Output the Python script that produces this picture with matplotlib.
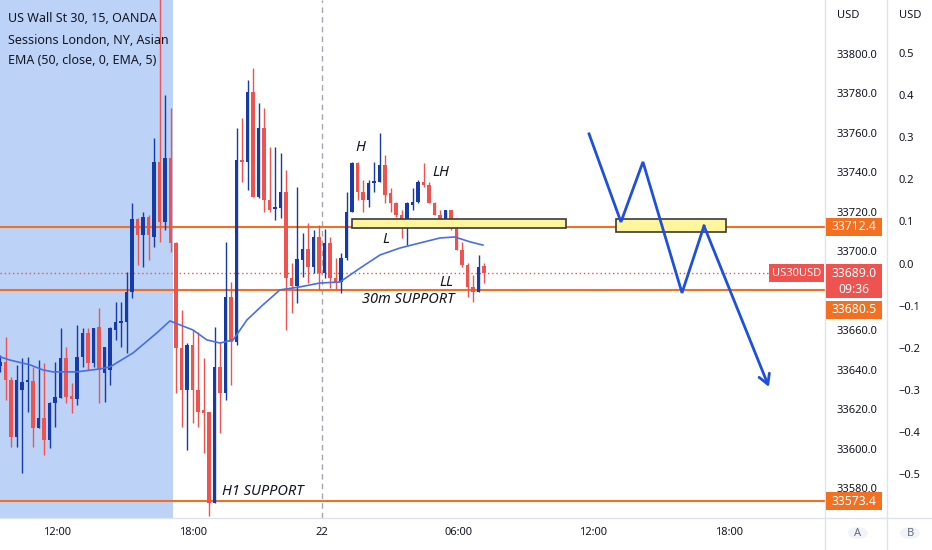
import matplotlib
matplotlib.use("Agg")
import matplotlib.pyplot as plt
from matplotlib.patches import Rectangle, Circle
from matplotlib.lines import Line2D

plt.rcParams['font.family'] = ['Noto Sans', 'DejaVu Sans']

# ---------------- data (15-min candles, US Wall St 30) ----------------
opens = [33642.0, 33644.0, 33634.9, 33606.0, 33629.9, 33633.9, 33634.4, 33610.6, 33615.7, 33604.5,
         33623.3, 33625.8, 33646.1, 33626.8, 33625.3, 33646.6, 33658.7, 33643.5, 33661.7, 33638.5,
         33640.0, 33660.2, 33663.8, 33664.3, 33679.5, 33716.4, 33708.3, 33717.4, 33707.3, 33745.3,
         33714.9, 33747.3, 33704.3, 33651.1, 33629.9, 33652.6, 33629.9, 33619.7, 33618.7, 33572.6,
         33641.5, 33628.3, 33676.9, 33654.1, 33746.3, 33745.3, 33780.7, 33727.6, 33762.5, 33726.0,
         33721.5, 33722.0, 33730.1, 33686.5, 33682.5, 33695.7, 33701.2, 33692.1, 33707.3, 33689.1,
         33704.3, 33686.5, 33684.5, 33696.7, 33720.0, 33744.8, 33730.1, 33726.0, 33734.6, 33735.2,
         33743.8, 33729.6, 33724.5, 33718.4, 33712.4, 33723.5, 33725.0, 33735.2, 33733.6, 33724.5,
         33718.4, 33713.4, 33721.0, 33712.4, 33700.7, 33693.1, 33682.0, 33679.5, 33692.6]
highs = [33647.6, 33656.7, 33636.4, 33642.5, 33646.1, 33646.6, 33641.5, 33645.0, 33643.5, 33623.8,
         33644.0, 33661.2, 33651.6, 33633.4, 33662.8, 33661.2, 33661.2, 33661.2, 33671.4, 33651.6,
         33661.7, 33674.4, 33674.4, 33689.6, 33724.5, 33716.9, 33720.0, 33718.4, 33757.4, 33832.4,
         33779.2, 33772.6, 33704.8, 33670.3, 33653.6, 33660.2, 33659.2, 33646.1, 33618.7, 33661.7,
         33654.1, 33704.8, 33684.5, 33762.5, 33767.6, 33786.8, 33792.9, 33775.2, 33772.6, 33752.9,
         33752.9, 33749.8, 33741.2, 33694.1, 33732.6, 33709.3, 33714.4, 33710.9, 33713.4, 33711.4,
         33707.3, 33696.7, 33699.2, 33730.1, 33745.3, 33745.3, 33736.2, 33736.2, 33745.3, 33760.0,
         33748.8, 33732.1, 33725.0, 33721.0, 33725.0, 33732.1, 33736.2, 33744.8, 33735.2, 33725.0,
         33721.0, 33721.0, 33721.0, 33712.4, 33704.8, 33694.1, 33688.1, 33698.2, 33694.1]
lows = [33639.0, 33624.8, 33601.0, 33601.0, 33587.8, 33618.7, 33601.0, 33610.6, 33597.0, 33600.5,
        33611.1, 33625.8, 33623.3, 33618.2, 33622.2, 33641.5, 33640.0, 33641.5, 33623.3, 33623.8,
        33632.4, 33655.2, 33651.6, 33648.6, 33676.4, 33693.1, 33692.1, 33695.7, 33702.2, 33704.8,
        33710.9, 33699.7, 33628.3, 33611.1, 33599.5, 33613.1, 33611.1, 33598.0, 33566.0, 33572.6,
        33608.1, 33624.8, 33632.4, 33652.6, 33735.2, 33731.1, 33727.6, 33727.1, 33720.0, 33720.0,
        33715.9, 33716.9, 33660.2, 33668.8, 33673.9, 33687.1, 33684.0, 33689.1, 33680.5, 33686.5,
        33681.5, 33680.5, 33679.0, 33695.7, 33720.0, 33726.0, 33720.0, 33722.5, 33730.1, 33735.2,
        33724.5, 33720.0, 33717.4, 33706.8, 33703.3, 33721.0, 33724.5, 33732.6, 33724.5, 33718.4,
        33712.4, 33711.9, 33710.9, 33700.7, 33692.1, 33676.9, 33674.4, 33679.5, 33684.0]
closes = [33644.0, 33634.9, 33606.0, 33634.9, 33633.9, 33634.9, 33610.6, 33615.7, 33604.5, 33623.3,
          33626.3, 33646.1, 33626.3, 33625.3, 33646.6, 33658.7, 33643.5, 33661.2, 33640.0, 33651.6,
          33661.2, 33664.3, 33664.8, 33679.5, 33716.4, 33708.3, 33717.4, 33708.3, 33745.3, 33714.9,
          33747.3, 33704.3, 33651.1, 33629.9, 33652.6, 33629.9, 33618.7, 33618.2, 33572.6, 33641.5,
          33628.3, 33676.9, 33654.1, 33746.3, 33745.3, 33780.7, 33727.6, 33762.5, 33726.0, 33721.0,
          33722.5, 33730.1, 33686.5, 33682.5, 33696.2, 33701.2, 33692.1, 33707.3, 33689.1, 33704.3,
          33686.5, 33684.5, 33696.7, 33720.0, 33744.8, 33730.1, 33726.0, 33734.6, 33735.7, 33743.8,
          33728.6, 33724.5, 33718.4, 33712.4, 33724.5, 33725.0, 33735.2, 33733.6, 33724.5, 33718.4,
          33713.4, 33721.0, 33712.4, 33700.7, 33693.1, 33682.0, 33679.5, 33692.1, 33689.0]

# EMA(50) (bar index, price)
ema_x = [0, 1.8, 5.5, 7.8, 9.6, 14, 18.2, 20, 24.2, 28.5, 30.9, 32.7, 35.1, 37.6, 40, 42.4,
         44.9, 47.8, 50.9, 54.5, 58.2, 61.8, 65.5, 69.1, 72.7, 76.4, 80, 82.7, 85.5, 87.8]
ema_y = [33646.6, 33645.0, 33642.5, 33640.0, 33639.0, 33639.0, 33640.5, 33641.5, 33648.6, 33658.7,
         33664.8, 33662.8, 33660.2, 33655.2, 33653.6, 33655.2, 33665.3, 33672.9, 33680.5, 33682.0,
         33684.0, 33684.5, 33691.6, 33698.2, 33701.7, 33704.3, 33706.8, 33707.3, 33704.8, 33703.2]

time_tick_pos = [10.4, 35.1, 58.5, 83.3, 107.8, 132.5]
time_tick_labels = ['12:00', '18:00', '22', '06:00', '12:00', '18:00']
price_ticks = [33580, 33600, 33620, 33640, 33660, 33700, 33720, 33740, 33760, 33780, 33800]
pct_ticks = [0.5, 0.4, 0.3, 0.2, 0.1, 0.0, -0.1, -0.2, -0.3, -0.4, -0.5]

level_resist = 33712.4
level_30m = 33680.5
level_h1 = 33573.4
last_price = 33689.0
session_end = 31.45
day_break = 58.5

zone1 = [64.0, 102.9, 33711.9, 33716.4]
zone2 = [112.0, 132.0, 33709.9, 33716.4]
path_x = [107.1, 112.9, 116.9, 124.0, 128.0, 139.8]
path_y = [33759.5, 33714.9, 33745.3, 33679.0, 33712.9, 33631.4]

# ---------------- figure ----------------
W, H = 932, 550
fig = plt.figure(figsize=(W / 100, H / 100), dpi=100, facecolor='white')
ax = fig.add_axes([0, 32 / H, 825 / W, 518 / H])
ax.set_xlim(0, 150)
ax.set_ylim(33565.0, 33827.3)
ax.set_facecolor('white')
for s in ax.spines.values():
    s.set_visible(False)

RED = '#EF5350'
BLUE = '#163AA6'
ORANGE = '#F36F21'
TXT = '#131722'

ax.axvspan(-1, session_end, color='#BCD2F7', zorder=0, lw=0)
ax.axvline(day_break, color='#A3A6AF', lw=1, ls=(0, (4, 3)), zorder=1)

for i, (o, h, l, c) in enumerate(zip(opens, highs, lows, closes)):
    col = BLUE if c >= o else RED
    ax.vlines(i, l, h, color=col, lw=1.0, zorder=3)
    body = max(abs(c - o), 0.6)
    ax.bar(i, body, bottom=min(o, c), width=0.6, color=col, lw=0, zorder=3)

ax.plot(ema_x, ema_y, color='#4A6FE3', lw=1.2, zorder=3)

for lv in (level_resist, level_30m, level_h1):
    ax.axhline(lv, color=ORANGE, lw=1.5, zorder=2)
ax.axhline(last_price, color=RED, lw=1, ls=(0, (1, 2)), zorder=2)

for z in (zone1, zone2):
    ax.add_patch(Rectangle((z[0], z[2]), z[1] - z[0], z[3] - z[2], facecolor='#FFF59D',
                           edgecolor='#3A3A3A', lw=1.2, zorder=4))

ax.plot(path_x[:-1], path_y[:-1], color='#1F50DC', lw=2, zorder=5, solid_joinstyle='miter')
ax.annotate('', xy=(path_x[-1], path_y[-1]), xytext=(path_x[-2], path_y[-2]),
            arrowprops=dict(arrowstyle='->,head_length=0.7,head_width=0.4', color='#1F50DC',
                            lw=2, shrinkA=0, shrinkB=0), zorder=5)

def note(x, y, s):
    ax.text(x, y, s, fontsize=10.5, style='italic', color=TXT, ha='center', va='center', zorder=6)

note(65.5, 33752.4, 'H')
note(80.2, 33740.2, 'LH')
note(70.2, 33705.8, 'L')
note(81.1, 33684.0, 'LL')
note(74.2, 33675.4, '30m SUPPORT')
note(47.8, 33578.2, 'H1 SUPPORT')

# second (percent) scale
ax2 = ax.twinx()
ax2.set_ylim((263.5 - 518) / 421, 263.5 / 421)
ax2.set_yticks(pct_ticks)
ax2.set_yticklabels([f'{v:.1f}'.replace('-', '\u2212') for v in pct_ticks])
ax2.tick_params(axis='y', length=0, pad=53, labelsize=8, labelcolor=TXT)
for s in ax2.spines.values():
    s.set_visible(False)

# main axis ticks (after twinx, which moves ax ticks to the left)
ax.set_xticks(time_tick_pos)
ax.set_xticklabels(time_tick_labels)
ax.tick_params(axis='x', length=0, pad=6.5, labelsize=8, labelcolor=TXT)
ax.yaxis.tick_right()
ax.set_yticks(price_ticks)
ax.set_yticklabels([f'{p:.1f}' for p in price_ticks])
ax.tick_params(axis='y', which='both', left=False, labelleft=False, right=False, labelright=True,
               length=0, pad=8, labelsize=8, labelcolor=TXT)

# frame lines
sep = '#E0E3EB'
fig.add_artist(Line2D([825 / W, 825 / W], [0, 1], color=sep, lw=1, transform=fig.transFigure))
fig.add_artist(Line2D([887 / W, 887 / W], [0, 1], color=sep, lw=1, transform=fig.transFigure))
fig.add_artist(Line2D([0, 1], [1 - 518 / H, 1 - 518 / H], color=sep, lw=1, transform=fig.transFigure))

# header texts
fig.text(8 / W, 1 - 18 / H, 'US Wall St 30, 15, OANDA', fontsize=9, fontweight='semibold', color=TXT, va='center')
fig.text(8 / W, 1 - 40 / H, 'Sessions London, NY, Asian', fontsize=9, color=TXT, va='center')
fig.text(8 / W, 1 - 61 / H, 'EMA (50, close, 0, EMA, 5)', fontsize=9, color=TXT, va='center')
fig.text(837 / W, 1 - 16 / H, 'USD', fontsize=8, color=TXT, va='center')
fig.text(899 / W, 1 - 16 / H, 'USD', fontsize=8, color=TXT, va='center')

# price boxes on axis
def py(p):
    return ax.transData.transform((0, p))[1]

def box(x0, x1, yc_px, h_px, color):
    fig.add_artist(Rectangle((x0 / W, (yc_px - h_px / 2) / H), (x1 - x0) / W, h_px / H,
                             transform=fig.transFigure, facecolor=color, edgecolor='none', zorder=5))

def btxt(x, yc_px, s, size=8.8, weight='bold'):
    fig.text(x / W, yc_px / H, s, color='white', fontsize=size, fontweight=weight,
             ha='center', va='center', zorder=6)

y_r = py(level_resist)
box(826, 882, y_r, 18, ORANGE)
btxt(854, y_r, f'{level_resist:.1f}')

y_l = py(last_price)
box(826, 882, y_l - 8, 34, RED)
btxt(854, y_l, f'{last_price:.1f}')
btxt(854, y_l - 16, '09:36', weight='normal')

box(769, 824, y_l, 18, RED)
btxt(796.5, y_l, 'US30USD', size=8, weight='semibold')

y_s = py(level_30m) - 20
box(826, 882, y_s, 18, ORANGE)
btxt(854, y_s, f'{level_30m:.1f}')

y_h = py(level_h1)
box(826, 882, y_h, 18, ORANGE)
btxt(854, y_h, f'{level_h1:.1f}')

# A / B buttons
for cx, lab in ((858, 'A'), (910, 'B')):
    fig.add_artist(Circle((cx / W, 1 - 533 / H), 10 / W, transform=fig.transFigure,
                          facecolor='#F0F3FA', edgecolor='none'))
    fig.text(cx / W, 1 - 533 / H, lab, fontsize=8, color='#6A6D78', ha='center', va='center')

fig.savefig('out.png', dpi=100, facecolor='white')
